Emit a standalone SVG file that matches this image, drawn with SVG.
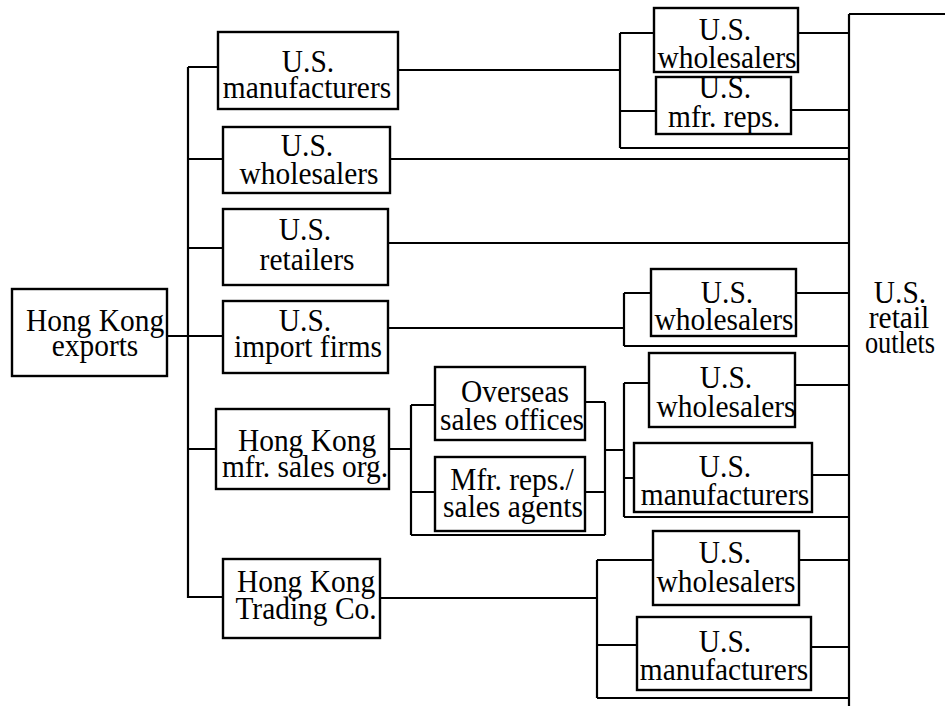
<svg xmlns="http://www.w3.org/2000/svg" width="945" height="708" viewBox="0 0 945 708">
<style>
.b{fill:#fff;stroke:#000;stroke-width:2.4}
.t{font-family:"Liberation Serif","Times New Roman",serif;font-size:31px;fill:#000;text-anchor:middle}
.c{fill:none;stroke:#000;stroke-width:2.2}
</style>
<rect width="945" height="708" fill="#fff"/>
<g id="connectors" class="c">
<path d="M188,67V598"/>
<path d="M167,336H223"/>
<path d="M188,67H218M188,159H223M188,248H223M188,449H216M188,597H223"/>
<path d="M398,70H620M620,33V148M620,33H654M620,111H656M798,33H849M791,110H849M620,148H849"/>
<path d="M390,159H849"/>
<path d="M388,243H849"/>
<path d="M388,328H624M624,293V346M624,293H651M796,293H849M624,346H849"/>
<path d="M389,449H411M411,405V535M411,405H435M411,492H435M411,535H605M605,402V535M585,402H605M585,492H605M605,450H624"/>
<path d="M624,383V517M624,383H649M624,478H634M795,385H849M812,475H849M624,517H849"/>
<path d="M380,598H597M597,560V698M597,560H653M799,560H849M597,645H637M811,647H849M597,698H849"/>
<path d="M849,14V706M849,14H945"/>
</g>
<g id="hk-exports"><rect class="b" x="12" y="289" width="155" height="87"/><text class="t" transform="translate(95,331) scale(0.95,1)">Hong Kong</text><text class="t" transform="translate(95,356) scale(0.95,1)">exports</text></g>
<g id="us-manufacturers-1"><rect class="b" x="218" y="32" width="180" height="77"/><text class="t" transform="translate(308,72) scale(0.95,1)">U.S.</text><text class="t" transform="translate(307,98) scale(0.95,1)">manufacturers</text></g>
<g id="us-wholesalers-1"><rect class="b" x="223" y="127" width="167" height="66"/><text class="t" transform="translate(307,156) scale(0.95,1)">U.S.</text><text class="t" transform="translate(309,184) scale(0.95,1)">wholesalers</text></g>
<g id="us-retailers"><rect class="b" x="223" y="209" width="165" height="76"/><text class="t" transform="translate(305,240) scale(0.95,1)">U.S.</text><text class="t" transform="translate(307,270) scale(0.95,1)">retailers</text></g>
<g id="us-import-firms"><rect class="b" x="223" y="301" width="165" height="72"/><text class="t" transform="translate(305,331) scale(0.95,1)">U.S.</text><text class="t" transform="translate(308,357) scale(0.95,1)">import firms</text></g>
<g id="hk-mfr-sales-org"><rect class="b" x="216" y="409" width="173" height="80"/><text class="t" transform="translate(307,451) scale(0.95,1)">Hong Kong</text><text class="t" transform="translate(305,477) scale(0.95,1)">mfr. sales org.</text></g>
<g id="hk-trading-co"><rect class="b" x="223" y="559" width="157" height="79"/><text class="t" transform="translate(306,592) scale(0.95,1)">Hong Kong</text><text class="t" transform="translate(306,619) scale(0.95,1)">Trading Co.</text></g>
<g id="overseas-sales-offices"><rect class="b" x="435" y="367" width="150" height="73"/><text class="t" transform="translate(515,402) scale(0.95,1)">Overseas</text><text class="t" transform="translate(512,430) scale(0.95,1)">sales offices</text></g>
<g id="mfr-reps-sales-agents"><rect class="b" x="435" y="457" width="150" height="74"/><text class="t" transform="translate(512,490) scale(0.95,1)">Mfr. reps./</text><text class="t" transform="translate(513,517) scale(0.95,1)">sales agents</text></g>
<g id="us-wholesalers-2"><rect class="b" x="654" y="8" width="144" height="64"/><text class="t" transform="translate(725,40) scale(0.95,1)">U.S.</text><text class="t" transform="translate(727,68) scale(0.95,1)">wholesalers</text></g>
<g id="us-mfr-reps"><rect class="b" x="656" y="77" width="135" height="57"/><text class="t" transform="translate(725,98) scale(0.95,1)">U.S.</text><text class="t" transform="translate(724,127) scale(0.95,1)">mfr. reps.</text></g>
<g id="us-wholesalers-3"><rect class="b" x="651" y="269" width="145" height="67"/><text class="t" transform="translate(727,303) scale(0.95,1)">U.S.</text><text class="t" transform="translate(724,330) scale(0.95,1)">wholesalers</text></g>
<g id="us-wholesalers-4"><rect class="b" x="649" y="353" width="146" height="74"/><text class="t" transform="translate(726,388) scale(0.95,1)">U.S.</text><text class="t" transform="translate(726,417) scale(0.95,1)">wholesalers</text></g>
<g id="us-manufacturers-2"><rect class="b" x="634" y="443" width="178" height="69"/><text class="t" transform="translate(725,477) scale(0.95,1)">U.S.</text><text class="t" transform="translate(725,505) scale(0.95,1)">manufacturers</text></g>
<g id="us-wholesalers-5"><rect class="b" x="653" y="531" width="146" height="74"/><text class="t" transform="translate(725,563) scale(0.95,1)">U.S.</text><text class="t" transform="translate(726,592) scale(0.95,1)">wholesalers</text></g>
<g id="us-manufacturers-3"><rect class="b" x="637" y="617" width="174" height="73"/><text class="t" transform="translate(725,652) scale(0.95,1)">U.S.</text><text class="t" transform="translate(724,680) scale(0.95,1)">manufacturers</text></g>
<g id="us-retail-outlets"><text class="t" transform="translate(900,303) scale(0.95,1)">U.S.</text><text class="t" transform="translate(899,328) scale(0.95,1)">retail</text><text class="t" transform="translate(900,353) scale(0.85,1)">outlets</text></g>
</svg>
